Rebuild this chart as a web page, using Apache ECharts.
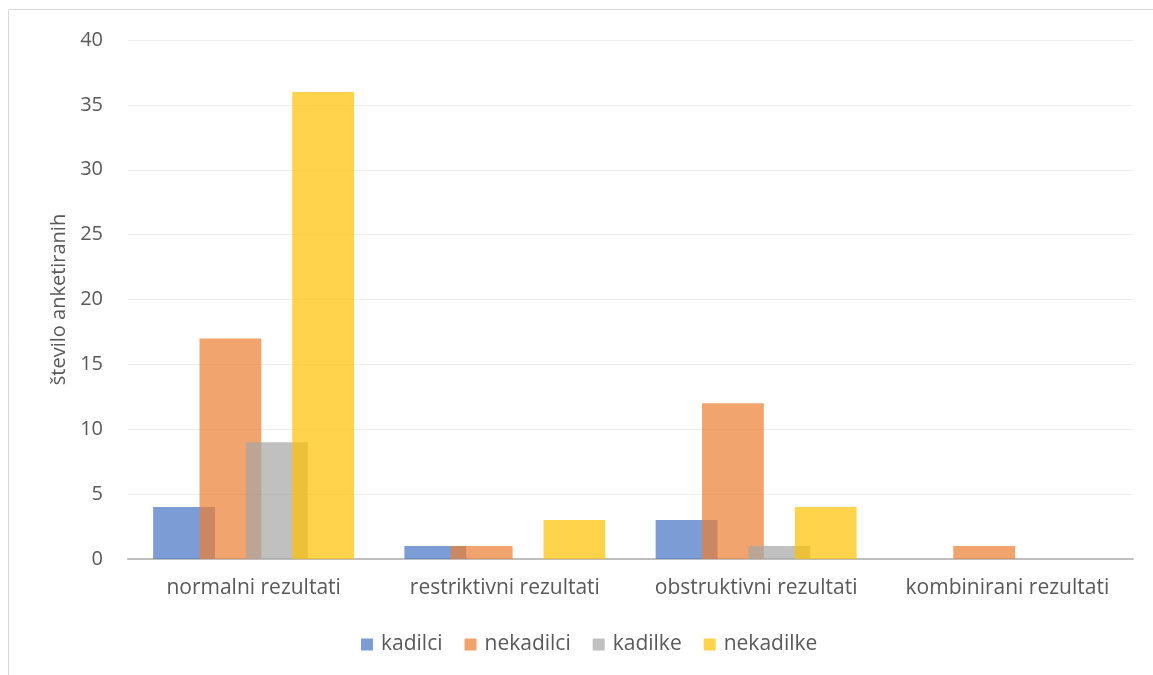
<!DOCTYPE html>
<html>
<head>
<meta charset="utf-8">
<script src="https://cdn.jsdelivr.net/npm/echarts@6/dist/echarts.min.js"></script>
<style>
  html, body { margin: 0; padding: 0; background: #fff; }
  #chart { width: 1153px; height: 675px; }
</style>
</head>
<body>
<div id="chart"></div>
<script>
// Spirometry outcome groups and respondent counts per group
const categories = ['normalni rezultati', 'restriktivni rezultati', 'obstruktivni rezultati', 'kombinirani rezultati'];
const kadilci   = [4, 1, 3, 0];
const nekadilci = [17, 1, 12, 1];
const kadilke   = [9, 0, 1, 0];
const nekadilke = [36, 3, 4, 0];
const seriesNames = ['kadilci', 'nekadilci', 'kadilke', 'nekadilke'];
const yTicks = { min: 0, max: 40, interval: 5 };
const yAxisTitle = 'število anketiranih';

const FONT = '"Open Sans"';
const TEXT = '#595959';
const palette = ['#4472C4', '#ED7D31', '#A5A5A5', '#FFC000'];
const values = [kadilci, nekadilci, kadilke, nekadilke];

const chart = echarts.init(document.getElementById('chart'), null, { renderer: 'canvas' });

chart.setOption({
  animation: false,
  backgroundColor: '#ffffff',
  textStyle: { fontFamily: FONT },
  color: palette,
  grid: { left: 128, right: 20, top: 40, bottom: 116, containLabel: false },
  legend: {
    left: 361,
    top: 634,
    padding: 0,
    itemWidth: 12,
    itemHeight: 12,
    itemGap: 22,
    icon: 'rect',
    textStyle: { color: TEXT, fontSize: 21, fontFamily: FONT, padding: [0, 0, 0, 3] },
    data: seriesNames
  },
  xAxis: {
    type: 'category',
    data: categories,
    axisLine: { lineStyle: { color: '#BFBFBF', width: 2 } },
    axisTick: { show: false },
    axisLabel: { color: TEXT, fontSize: 21, margin: 19, fontFamily: FONT, interval: 0 }
  },
  yAxis: {
    type: 'value',
    min: yTicks.min,
    max: yTicks.max,
    interval: yTicks.interval,
    name: yAxisTitle,
    nameLocation: 'middle',
    nameGap: 56,
    nameRotate: 90,
    nameTextStyle: { color: TEXT, fontSize: 20, fontFamily: FONT },
    axisLine: { show: false },
    axisTick: { show: false },
    axisLabel: { color: TEXT, fontSize: 20, margin: 25, fontFamily: FONT },
    splitLine: { lineStyle: { color: '#EDEDED', width: 1 } }
  },
  series: seriesNames.map((name, i) => ({
    name,
    type: 'bar',
    data: values[i],
    barGap: '-25%',
    barCategoryGap: '20%',
    itemStyle: { color: palette[i], opacity: 0.7 }
  })),
  graphic: [
    { type: 'line', shape: { x1: 8.5, y1: 9.5, x2: 1153, y2: 9.5 }, style: { stroke: '#D9D9D9', lineWidth: 1 }, silent: true },
    { type: 'line', shape: { x1: 8.5, y1: 9.5, x2: 8.5, y2: 675 }, style: { stroke: '#D9D9D9', lineWidth: 1 }, silent: true }
  ]
});
</script>
</body>
</html>
